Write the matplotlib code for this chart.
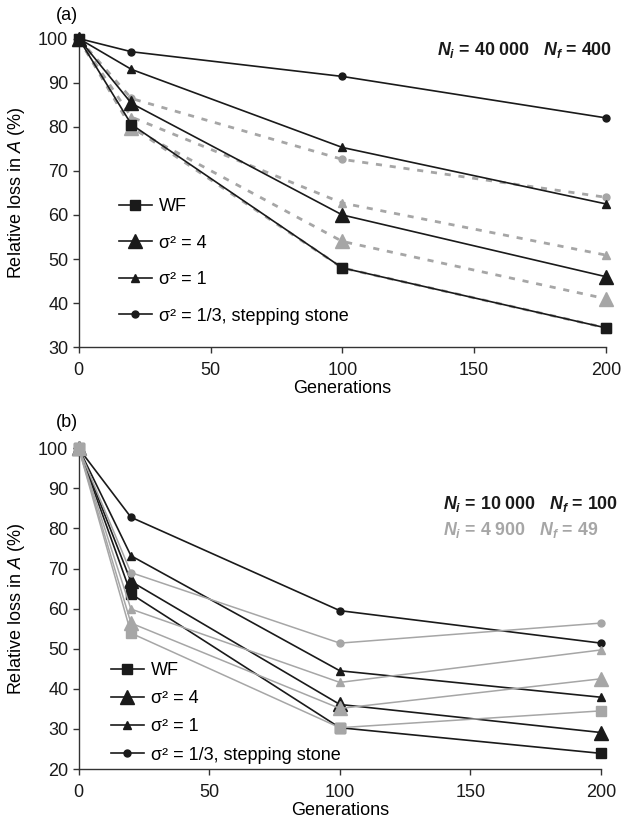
import matplotlib
matplotlib.use("Agg")
import matplotlib.pyplot as plt
from matplotlib.lines import Line2D

plt.rcParams['font.family'] = ['Liberation Sans', 'DejaVu Sans']
plt.rcParams['mathtext.fontset'] = 'custom'
plt.rcParams['mathtext.rm'] = 'Liberation Sans'
plt.rcParams['mathtext.it'] = 'Liberation Sans:italic'
plt.rcParams['mathtext.bf'] = 'Liberation Sans:italic:bold'

generations = [0, 20, 100, 200]

# Panel (a): Ni = 40 000, Nf = 400
a_wf = [100, 80.5, 48.0, 34.4]
a_s4 = [100, 85.3, 60.0, 46.0]
a_s1 = [100, 93.0, 75.3, 62.5]
a_ss = [100, 97.0, 91.4, 82.0]
a_wf_g = [100, 80.0, 48.0, 34.4]
a_s4_g = [100, 79.7, 54.0, 41.0]
a_s1_g = [100, 82.2, 62.7, 50.9]
a_ss_g = [100, 86.4, 72.6, 64.0]

# Panel (b): black Ni = 10 000, Nf = 100; grey Ni = 4 900, Nf = 49
b_wf = [100, 63.7, 30.3, 23.9]
b_s4 = [100, 66.8, 36.1, 29.1]
b_s1 = [100, 73.2, 44.5, 37.9]
b_ss = [100, 82.8, 59.5, 51.4]
b_wf_g = [100, 53.9, 30.3, 34.5]
b_s4_g = [100, 56.4, 35.1, 42.5]
b_s1_g = [100, 59.9, 41.6, 49.7]
b_ss_g = [100, 69.0, 51.4, 56.4]

legend_labels = ["WF", "σ² = 4", "σ² = 1", "σ² = 1/3, stepping stone"]
x_ticks = [0, 50, 100, 150, 200]

BLACK = '#1a1a1a'
GREY = '#a6a6a6'
W, H = 634, 822
fig = plt.figure(figsize=(W / 100, H / 100), dpi=100)

def px_axes(x0, x1, ytop, ybot):
    return fig.add_axes([x0 / W, 1 - ybot / H, (x1 - x0) / W, (ybot - ytop) / H])

ax1 = px_axes(78.7, 606, 38.5, 347.3)
ax2 = px_axes(78.7, 601, 448.3, 769)

styles = [('s', 7.0), ('^', 9.5), ('^', 6.0), ('o', 5.0)]

def style_axes(ax, ylo, yhi, yticks):
    ax.set_xlim(0, 200)
    ax.set_ylim(ylo, yhi)
    ax.set_xticks(x_ticks)
    ax.set_yticks(yticks)
    for s in ['top', 'right']:
        ax.spines[s].set_visible(False)
    for s in ['left', 'bottom']:
        ax.spines[s].set_linewidth(1.0)
        ax.spines[s].set_color('#333333')
    ax.tick_params(axis='both', direction='out', length=4.5, width=1.0,
                   labelsize=13, colors='#333333', labelcolor='#1a1a1a')
    ax.tick_params(axis='x', pad=6)
    ax.tick_params(axis='y', pad=3)
    ax.set_xlabel("Generations", fontsize=13, labelpad=1)
    ax.set_ylabel("Relative loss in $A$ (%)", fontsize=13, labelpad=8)

# ---- Panel (a)
grey_a = [a_wf_g, a_s4_g, a_s1_g, a_ss_g]
black_a = [a_wf, a_s4, a_s1, a_ss]
for ys, (m, ms) in zip(grey_a, styles):
    ax1.plot(generations, ys, color=GREY, lw=2.0, ls=(0, (2.2, 2.8)), marker=m,
             ms=ms, mec=GREY, mfc=GREY, clip_on=False, zorder=2)
for ys, (m, ms) in zip(black_a, styles):
    ax1.plot(generations, ys, color=BLACK, lw=1.2, marker=m, ms=ms,
             mec=BLACK, mfc=BLACK, clip_on=False, zorder=3)
style_axes(ax1, 30, 100, [30, 40, 50, 60, 70, 80, 90, 100])

# ---- Panel (b)
grey_b = [b_wf_g, b_s4_g, b_s1_g, b_ss_g]
black_b = [b_wf, b_s4, b_s1, b_ss]
for ys, (m, ms) in zip(black_b, styles):
    ax2.plot(generations, ys, color=BLACK, lw=1.2, marker=m, ms=ms,
             mec=BLACK, mfc=BLACK, clip_on=False, zorder=2)
for ys, (m, ms) in zip(grey_b, styles):
    ax2.plot(generations, ys, color=GREY, lw=1.1, marker=m, ms=ms,
             mec=GREY, mfc=GREY, clip_on=False, zorder=3)
style_axes(ax2, 20, 100, [20, 30, 40, 50, 60, 70, 80, 90, 100])

# legends
handles = [Line2D([], [], color=BLACK, lw=1.2, marker=m, ms=ms, mfc=BLACK, mec=BLACK)
           for (m, ms) in styles]
ax1.legend(handles, legend_labels, loc='upper left', bbox_to_anchor=(110 / W, 1 - 189 / H),
           bbox_transform=fig.transFigure, frameon=False, fontsize=13,
           handlelength=1.8, handletextpad=0.4, labelspacing=1.08, borderpad=0)
ax2.legend(handles, legend_labels, loc='upper left', bbox_to_anchor=(102 / W, 1 - 653 / H),
           bbox_transform=fig.transFigure, frameon=False, fontsize=13,
           handlelength=1.8, handletextpad=0.4, labelspacing=0.62, borderpad=0)

# annotations
fig.text(612 / W, 1 - 50 / H, r"$\mathbf{N_i}$ = 40 000   $\mathbf{N_f}$ = 400",
         ha='right', va='center', fontsize=12.8, fontweight='bold', color=BLACK)
fig.text(443 / W, 1 - 504 / H, r"$\mathbf{N_i}$ = 10 000   $\mathbf{N_f}$ = 100",
         ha='left', va='center', fontsize=12.8, fontweight='bold', color=BLACK)
fig.text(443 / W, 1 - 530 / H, r"$\mathbf{N_i}$ = 4 900   $\mathbf{N_f}$ = 49",
         ha='left', va='center', fontsize=12.8, fontweight='bold', color=GREY)

fig.text(67 / W, 1 - 15 / H, "(a)", ha='center', va='center', fontsize=13)
fig.text(67 / W, 1 - 422 / H, "(b)", ha='center', va='center', fontsize=13)

fig.savefig("out.png", dpi=100)
